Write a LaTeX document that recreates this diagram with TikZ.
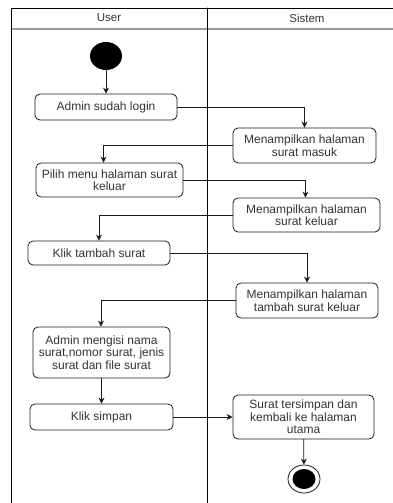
\documentclass[tikz,border=0pt]{standalone}
\usepackage{fontspec}
\setmainfont{Liberation Sans}
\usetikzlibrary{arrows.meta,positioning,shapes.geometric}
\definecolor{tinta}{HTML}{333333}
\definecolor{garis}{HTML}{1A1A1A}
\definecolor{kepala}{HTML}{9A9A9A}

\begin{document}
\begin{tikzpicture}[x=1pt,y=-1pt,>={Stealth[length=6pt,width=6pt]},line cap=round,
    aksi/.style={draw=garis,line width=0.8pt,rounded corners=5pt,text=tinta,align=center,
                 font=\fontsize{12}{12.5}\selectfont,inner sep=1pt},
    alur/.style={->,garis,line width=0.8pt}]
        \useasboundingbox (0,0) rectangle (393,503);
        \draw[kepala,line width=1.2pt] (11,29) -- (393,29);
        \draw[line width=0.9pt] (11,503) -- (11,8) -- (393,8);
        \draw[line width=0.9pt] (207,8) -- (207,503);
        \node[text=tinta,font=\fontsize{11.5}{12.5}\selectfont] (user) at (109,18) {User};
        \node[text=tinta,font=\fontsize{11.5}{12.5}\selectfont] (sistem) at (307,18) {Sistem};
        \node[ellipse,fill=black,minimum width=32pt,minimum height=28pt,inner sep=0pt] (mulai) at (106,56) {};
        \node[aksi,minimum width=142pt,minimum height=26pt] (b1) at (106,107) {Admin sudah login};
        \node[aksi,minimum width=143pt,minimum height=35pt] (b2) at (304.5,145.5)
              {Menampilkan halaman\\surat masuk};
        \node[aksi,minimum width=147pt,minimum height=34pt] (b3) at (109.5,180)
              {Pilih menu halaman surat\\keluar};
        \node[aksi,minimum width=147pt,minimum height=34pt] (b4) at (306.5,215)
              {Menampilkan halaman\\surat keluar};
        \node[aksi,minimum width=142pt,minimum height=24pt] (b5) at (99,253) {Klik tambah surat};
        \node[aksi,minimum width=142pt,minimum height=35pt] (b6) at (307,300.5)
              {Menampilkan halaman\\tambah surat keluar};
        \node[aksi,minimum width=137pt,minimum height=51pt] (b7) at (101.5,352.5)
              {Admin mengisi nama\\surat,nomor surat, jenis\\surat dan file surat};
        \node[aksi,minimum width=143pt,minimum height=26pt] (b8) at (101.5,417) {Klik simpan};
        \node[aksi,minimum width=141pt,minimum height=44pt] (b9) at (303.5,417)
              {Surat tersimpan dan\\kembali ke halaman\\utama};
        \node[ellipse,draw=garis,line width=0.8pt,minimum width=32pt,minimum height=28pt,inner sep=0pt]
              (selesai) at (304,479) {};
        \fill[black] (selesai.center) ellipse [x radius=11.5pt,y radius=10pt];
        \draw[alur] (mulai) -- (b1);
        \draw[alur] (b1.east) -| (b2.north);
        \draw[alur] (b2.west) -| ([xshift=-6pt]b3.north);
        \draw[alur] (b3.east) -| ([xshift=-1pt]b4.north);
        \draw[alur] (b4.west) -| (b5.north);
        \draw[alur] (b5.east) -| (b6.north);
        \draw[alur] (b6.west) -| ([xshift=-0.5pt]b7.north);
        \draw[alur] (b7) -- (b8);
        \draw[alur] (b8) -- (b9);
        \draw[alur] (b9) -- (selesai);
      \end{tikzpicture}
\end{document}
